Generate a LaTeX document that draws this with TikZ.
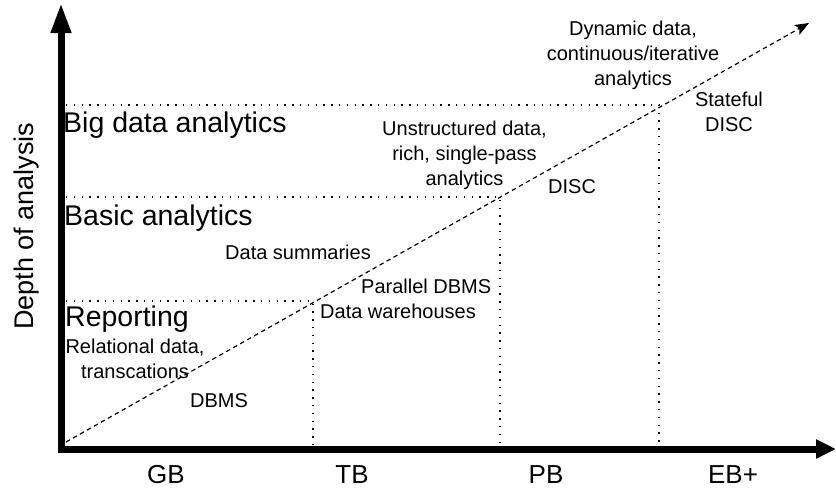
\documentclass[tikz,border=0pt]{standalone}
\usepackage{fontspec}
\setmainfont{Liberation Sans}
\usetikzlibrary{arrows.meta}
\begin{document}
\begin{tikzpicture}[x=1pt,y=-1pt,
  big/.style={font=\fontsize{28.5}{34}\selectfont,inner sep=0pt,anchor=base west},
  small/.style={font=\fontsize{20}{25}\selectfont,inner sep=0pt,anchor=base west},
  multi/.style={font=\fontsize{20}{25}\selectfont,inner sep=0pt,anchor=base,align=center},
  axlabel/.style={font=\fontsize{26}{30}\selectfont,inner sep=0pt,anchor=base},
  grid/.style={line width=1.5pt,dash pattern=on 1.4pt off 6.4pt,black},
  axis/.style={line width=7pt,line join=miter},
  trend/.style={line width=1.2pt,dash pattern=on 4.5pt off 3.5pt,-{Stealth[length=14pt,width=11pt,inset=3pt]}}]
\useasboundingbox (0,0) rectangle (836,490);
% coordinates
\coordinate (top) at (61,3);
\coordinate (corner) at (61,449);
\coordinate (right) at (836,449);
\coordinate (o) at (66,442);
\coordinate (t) at (809,23);
\coordinate (c1) at (313,301);
\coordinate (c2) at (500,197);
\coordinate (c3) at (659,105);
\coordinate (l1) at (66,301);
\coordinate (l2) at (66,197);
\coordinate (l3) at (66,105);
\coordinate (b1) at (313,445);
\coordinate (b2) at (500,445);
\coordinate (b3) at (659,445);
% dotted grid
\draw[grid] (l1) -- (c1) -- (b1);
\draw[grid] (l2) -- (c2) -- (b2);
\draw[grid] (l3) -- (c3) -- (b3);
% trend
\draw[trend] (o) -- (t);
% axes
\draw[axis,{Triangle[length=30pt,width=19pt]}-{Triangle[length=20pt,width=18pt]}] (top) -- (corner) -- (right);
% y label
\node[font=\fontsize{27}{32}\selectfont,inner sep=0pt,anchor=base west,rotate=90] (ylab) at (33.5,330) {Depth of analysis};
% level labels
\node[big] (bigda) at (63,132) {Big data analytics};
\node[big] (basic) at (64,225) {Basic analytics};
\node[big] (rep) at (65,326) {Reporting};
% annotations (base anchor = last line's baseline)
\node[multi] (rel) at (135,378) {Relational data,\\transcations};
\node[small] (dbms) at (190,407) {DBMS};
\node[small] (sum) at (225,259) {Data summaries};
\node[small] (pdbms) at (361,293) {Parallel DBMS};
\node[small] (dw) at (320,318) {Data warehouses};
\node[multi] (unstr) at (464.5,185) {Unstructured data,\\rich, single-pass\\analytics};
\node[small] (disc) at (548,193) {DISC};
\node[multi] (sdisc) at (729,131) {Stateful\\DISC};
\node[multi] (dyn) at (633,85) {Dynamic data,\\continuous/iterative\\analytics};
% x labels
\node[axlabel] (gb) at (166,483) {GB};
\node[axlabel] (tb) at (352,483) {TB};
\node[axlabel] (pb) at (546,483) {PB};
\node[axlabel] (eb) at (733,483) {EB+};
\end{tikzpicture}
\end{document}
